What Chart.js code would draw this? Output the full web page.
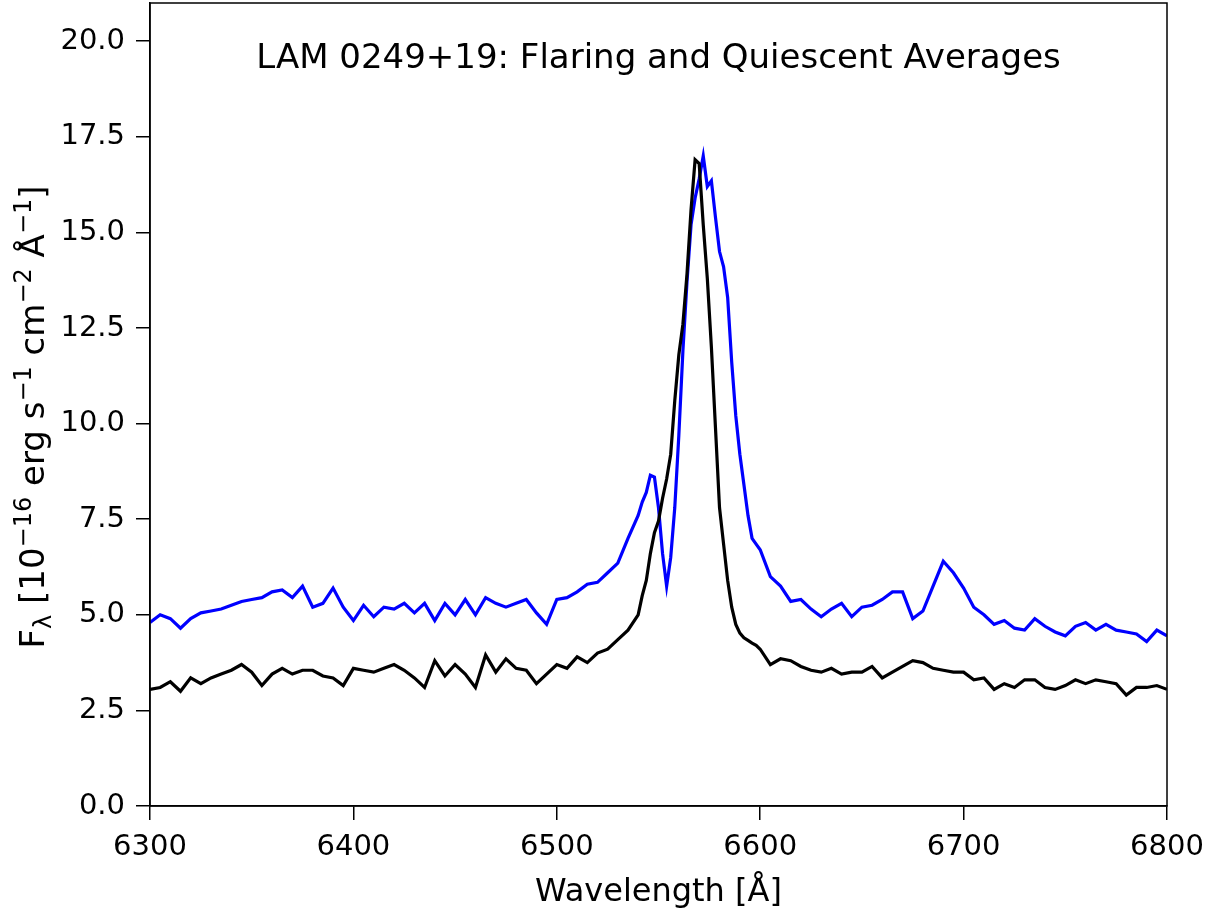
<!DOCTYPE html>
<html>
<head>
<meta charset="utf-8">
<script src="https://cdn.jsdelivr.net/npm/chart.js@4.4.1/dist/chart.umd.min.js"></script>
<style>
  html, body { margin: 0; padding: 0; background: #ffffff; }
  #wrap { width: 1210px; height: 914px; }
</style>
</head>
<body>
<div id="wrap"><canvas id="c" width="1210" height="914"></canvas></div>
<script>
const wavelength = [
  6300,6305,6310,6315,6320,6325,6330,6335,6340,6345,6350,6355,6360,6365,6370,6375,6380,6385,6390,6395,
  6400,6405,6410,6415,6420,6425,6430,6435,6440,6445,6450,6455,6460,6465,6470,6475,6480,6485,6490,6495,
  6500,6505,6510,6515,6520,6525,6530,6535,6540,
  6542,6544,6546,6548,6550,6552,6554,6556,6558,6560,6562,6564,6566,6568,6570,6572,6574,6576,6578,6580,
  6582,6584,6586,6588,6590,6592,6594,6596,6598,6600,
  6605,6610,6615,6620,6625,6630,6635,6640,6645,6650,6655,6660,6665,6670,6675,6680,6685,6690,6695,6700,
  6705,6710,6715,6720,6725,6730,6735,6740,6745,6750,6755,6760,6765,6770,6775,6780,6785,6790,6795,6800
];
const flaring = [
  4.8,5.0,4.9,4.65,4.9,5.05,5.1,5.15,5.25,5.35,5.4,5.45,5.6,5.65,5.45,5.75,5.2,5.3,5.7,5.2,
  4.85,5.25,4.95,5.2,5.15,5.3,5.05,5.3,4.85,5.3,5.0,5.4,5.0,5.45,5.3,5.2,5.3,5.4,5.05,4.75,
  5.4,5.45,5.6,5.8,5.85,6.1,6.35,7.0,7.6,
  7.95,8.2,8.65,8.6,7.8,6.6,5.75,6.5,7.8,9.7,11.9,13.7,15.2,15.9,16.4,17.0,16.2,16.35,15.4,14.5,
  14.1,13.3,11.6,10.2,9.2,8.4,7.6,7.0,6.85,6.7,
  6.0,5.75,5.35,5.4,5.15,4.95,5.15,5.3,4.95,5.2,5.25,5.4,5.6,5.6,4.9,5.1,5.75,6.4,6.1,5.7,
  5.2,5.0,4.75,4.85,4.65,4.6,4.9,4.7,4.55,4.45,4.7,4.8,4.6,4.75,4.6,4.55,4.5,4.3,4.6,4.45
];
const quiescent = [
  3.05,3.1,3.25,3.0,3.35,3.2,3.35,3.45,3.55,3.7,3.5,3.15,3.45,3.6,3.45,3.55,3.55,3.4,3.35,3.15,
  3.6,3.55,3.5,3.6,3.7,3.55,3.35,3.1,3.8,3.4,3.7,3.45,3.1,3.95,3.5,3.85,3.6,3.55,3.2,3.45,
  3.7,3.6,3.9,3.75,4.0,4.1,4.35,4.6,5.0,
  5.5,5.9,6.6,7.15,7.45,8.05,8.55,9.2,10.6,11.8,12.6,13.9,15.6,16.9,16.8,15.2,13.8,12.0,9.9,7.8,
  6.85,5.9,5.2,4.75,4.52,4.4,4.33,4.26,4.2,4.1,
  3.7,3.85,3.8,3.65,3.55,3.5,3.6,3.45,3.5,3.5,3.65,3.35,3.5,3.65,3.8,3.75,3.6,3.55,3.5,3.5,
  3.3,3.35,3.05,3.2,3.1,3.3,3.3,3.1,3.05,3.15,3.3,3.2,3.3,3.25,3.2,2.9,3.1,3.1,3.15,3.05
];
const xTicks = [6300, 6400, 6500, 6600, 6700, 6800];
const yTicks = [0, 2.5, 5, 7.5, 10, 12.5, 15, 17.5, 20];
const titleText = "LAM 0249+19: Flaring and Quiescent Averages";
const xLabel = "Wavelength [Å]";

const FONT = "DejaVu Sans";
const FS = 29;

function pts(ys) { return wavelength.map((w, i) => ({ x: w, y: ys[i] })); }

const textPlugin = {
  id: 'texts',
  afterDraw(chart) {
    const ctx = chart.ctx;
    const a = chart.chartArea;
    ctx.save();
    ctx.strokeStyle = '#000';
    ctx.lineWidth = 1.5;
    ctx.strokeRect(a.left, a.top, a.right - a.left, a.bottom - a.top);
    ctx.fillStyle = '#000';
    ctx.textAlign = 'center';
    ctx.textBaseline = 'alphabetic';
    ctx.font = "34px '" + FONT + "'";
    ctx.fillText(titleText, (a.left + a.right) / 2, 68);
    ctx.font = "32px '" + FONT + "'";
    ctx.fillText(xLabel, (a.left + a.right) / 2, 901);
    const big = 34;
    const small = 24;
    const parts = [
      { t: 'F', s: big, dy: 0 },
      { t: 'λ', s: small, dy: 7 },
      { t: ' [10', s: big, dy: 0 },
      { t: '−16', s: small, dy: -13 },
      { t: ' erg s', s: big, dy: 0 },
      { t: '−1', s: small, dy: -13 },
      { t: ' cm', s: big, dy: 0 },
      { t: '−2', s: small, dy: -13 },
      { t: ' Å', s: big, dy: 0 },
      { t: '−1', s: small, dy: -13 },
      { t: ']', s: big, dy: 0 }
    ];
    let total = 0;
    parts.forEach(p => { ctx.font = p.s + "px '" + FONT + "'"; p.w = ctx.measureText(p.t).width; total += p.w; });
    ctx.translate(44, 417);
    ctx.rotate(-Math.PI / 2);
    ctx.textAlign = 'left';
    let x = -total / 2;
    parts.forEach(p => {
      ctx.font = p.s + "px '" + FONT + "'";
      ctx.fillText(p.t, x, p.dy);
      x += p.w;
    });
    ctx.restore();
  }
};

new Chart(document.getElementById('c'), {
  type: 'line',
  data: {
    datasets: [
      { label: 'Quiescent', data: pts(quiescent), borderColor: '#000000', borderWidth: 3.2, pointRadius: 0, tension: 0, fill: false },
      { label: 'Flaring', data: pts(flaring), borderColor: '#0000ff', borderWidth: 3.2, pointRadius: 0, tension: 0, fill: false }
    ]
  },
  options: {
    responsive: false,
    animation: false,
    layout: { padding: { left: 0, right: 43, top: 3, bottom: 0 } },
    plugins: { legend: { display: false }, title: { display: false }, tooltip: { enabled: false } },
    scales: {
      x: {
        type: 'linear', min: 6300, max: 6800,
        afterBuildTicks: s => { s.ticks = xTicks.map(v => ({ value: v })); },
        afterFit: s => { s.height = 108; s.paddingLeft = 0; s.paddingRight = 0; },
        grid: { drawOnChartArea: false, drawTicks: true, tickLength: 14, color: '#000', lineWidth: 1.5 },
        border: { display: true, color: '#000', width: 1.5 },
        ticks: { color: '#000', font: { family: FONT, size: FS }, padding: 10, maxRotation: 0, callback: v => String(v) }
      },
      y: {
        type: 'linear', min: 0, max: 21,
        afterBuildTicks: s => { s.ticks = yTicks.map(v => ({ value: v })); },
        afterFit: s => { s.width = 150; s.paddingTop = 0; s.paddingBottom = 0; },
        grid: { drawOnChartArea: false, drawTicks: true, tickLength: 14, color: '#000', lineWidth: 1.5 },
        border: { display: true, color: '#000', width: 1.5 },
        ticks: { color: '#000', font: { family: FONT, size: FS }, padding: 11, callback: v => Number(v).toFixed(1) }
      }
    }
  },
  plugins: [textPlugin]
});
</script>
</body>
</html>
